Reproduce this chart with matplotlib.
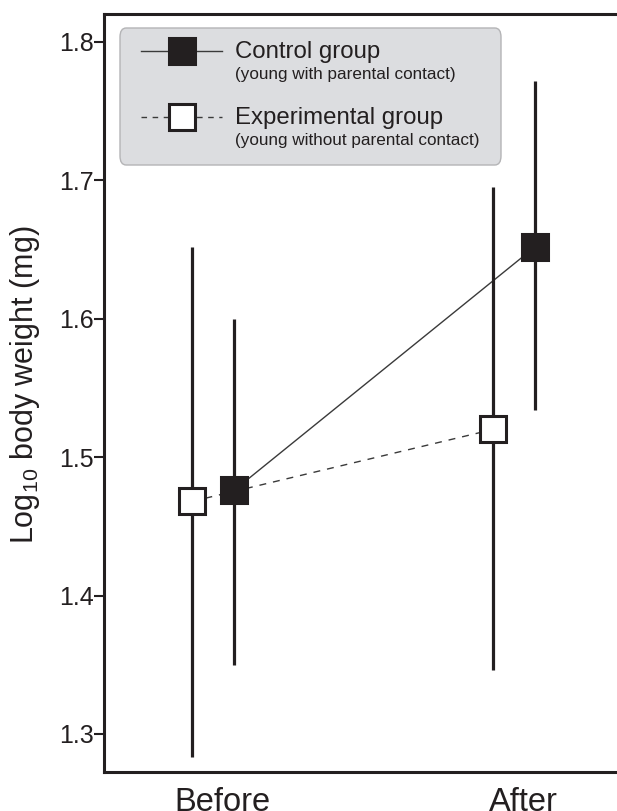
import matplotlib
matplotlib.use("Agg")
import matplotlib.pyplot as plt
from matplotlib.patches import FancyBboxPatch
from matplotlib.lines import Line2D

plt.rcParams['font.family'] = ['Liberation Sans', 'DejaVu Sans']
plt.rcParams['mathtext.fontset'] = 'custom'
plt.rcParams['mathtext.rm'] = 'Liberation Sans'
plt.rcParams['mathtext.it'] = 'Liberation Sans:italic'
plt.rcParams['mathtext.bf'] = 'Liberation Sans:bold'

# ---- data ----
categories = ["Before", "After"]
control_mean = [1.476, 1.652]
control_low = [1.350, 1.534]
control_high = [1.600, 1.772]
exper_mean = [1.468, 1.520]
exper_low = [1.283, 1.346]
exper_high = [1.652, 1.695]
yticks = [1.3, 1.4, 1.5, 1.6, 1.7, 1.8]
legend_titles = ["Control group", "Experimental group"]
legend_subs = ["(young with parental contact)", "(young without parental contact)"]

INK = "#231f20"
W, H = 617, 811
fig = plt.figure(figsize=(W / 100, H / 100), dpi=100)
# axes in pixel terms: left 104, right 617, top 14, bottom 772
ax = fig.add_axes([104 / W, 1 - 772 / H, (617 - 104) / W, (772 - 14) / H])

xc = list(range(len(categories)))
exp_off, ctl_off = -0.10, 0.04
xe = [x + exp_off for x in xc]
xk = [x + ctl_off for x in xc]

ms = 19
mew = 2.2
# connecting lines
ax.plot(xk, control_mean, color="#3a3a3a", lw=1.0, zorder=2)
ax.plot(xe, exper_mean, color="#3a3a3a", lw=1.0, ls=(0, (5, 5)), zorder=2)
# error bars
ax.vlines(xe, exper_low, exper_high, color=INK, lw=2.3, zorder=3)
ax.vlines(xk, control_low, control_high, color=INK, lw=2.3, zorder=3)
# markers
ax.plot(xe, exper_mean, ls="none", marker="s", ms=ms, mfc="white", mec=INK, mew=mew, zorder=4)
ax.plot(xk, control_mean, ls="none", marker="s", ms=ms, mfc=INK, mec=INK, mew=mew, zorder=4)

ax.set_xlim(-0.392, 1.312)
ax.set_ylim(1.2725, 1.8202)
ax.set_xticks(xc)
ax.set_xticklabels(categories, fontsize=23.5, color=INK)
ax.tick_params(axis="x", length=0, pad=11)
ax.set_yticks(yticks)
ax.set_yticklabels([f"{v:.1f}" for v in yticks], fontsize=18, color=INK)
ax.tick_params(axis="y", direction="out", length=7, width=1.5, color=INK, pad=0.5)
for s in ["left", "bottom", "top"]:
    ax.spines[s].set_linewidth(2.2)
    ax.spines[s].set_color(INK)
ax.spines["right"].set_visible(False)

ax.set_ylabel("Log$_{10}$ body weight (mg)", fontsize=22, color=INK)
ax.yaxis.set_label_coords((42 - 104) / 513, 0.511)

# ---- legend (manual) ----
def px(x, y):
    return ((x - 104) / (617 - 104), 1 - (y - 14) / (772 - 14))

x0, y0 = px(120, 165)
x1, y1 = px(501, 28)
box = FancyBboxPatch((x0, y0), x1 - x0, y1 - y0, transform=ax.transAxes,
                     boxstyle="round,pad=0,rounding_size=0.012",
                     fc="#dcdde0", ec="#b4b4b6", lw=1.0, zorder=5)
ax.add_patch(box)

rows_y = [51, 117]
styles = [dict(ls="-", mfc=INK), dict(ls=(0, (4, 4)), mfc="white")]
for yy, st, t, sub in zip(rows_y, styles, legend_titles, legend_subs):
    la, lb = px(141, yy), px(222, yy)
    ax.add_line(Line2D([la[0], lb[0]], [la[1], lb[1]], transform=ax.transAxes,
                       color="#3a3a3a", lw=1.0, ls=st["ls"], zorder=6))
    m = px(182, yy)
    ax.add_line(Line2D([m[0]], [m[1]], transform=ax.transAxes, ls="none", marker="s",
                       ms=ms, mfc=st["mfc"], mec=INK, mew=mew, zorder=7))
    tp = px(235, yy + 1)
    ax.text(tp[0], tp[1], t, transform=ax.transAxes, fontsize=17.3, color=INK,
            va="center", ha="left", zorder=7)
    sp = px(235, yy + 24)
    ax.text(sp[0], sp[1], sub, transform=ax.transAxes, fontsize=12.3, color=INK,
            va="center", ha="left", zorder=7)

fig.savefig("out.png", dpi=100)
